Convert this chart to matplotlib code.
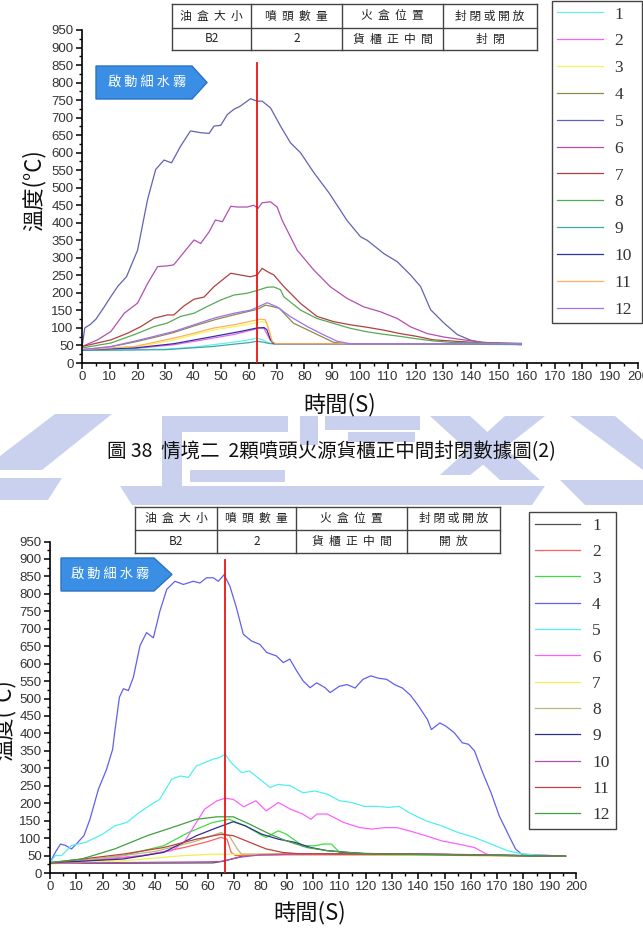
import matplotlib
matplotlib.use("Agg")
import matplotlib.pyplot as plt
from matplotlib.patches import Polygon
from matplotlib.lines import Line2D
from matplotlib.ticker import MultipleLocator

W, H = 643, 938
CJK = ['Noto Sans CJK TC', 'DejaVu Sans']

# ---------------- figure 1 : closed container ----------------
closed_labels = [str(i) for i in range(1, 13)]
closed_colors = ['#66eeee', '#ee66ee', '#f5f55a', '#8c8c46', '#6262b0', '#b050b0',
                 '#b04040', '#55aa55', '#40a8a8', '#3030a0', '#ffb060', '#a070f0']

closed_t1 = [0, 20, 31, 40, 47, 52, 57, 60, 63, 65, 67, 68, 75, 100, 130, 158]
closed_v1 = [36, 38, 40, 45, 52, 57, 62, 66, 71, 66, 58, 55, 55, 55, 54, 52]
closed_t2 = [0, 20, 33, 45, 55, 60, 64, 65.5, 67, 68.5, 70, 100, 158]
closed_v2 = [38, 42, 52, 68, 82, 92, 100, 98, 75, 57, 55, 55, 54]
closed_t3 = [0, 10, 19, 26, 33, 40, 48, 55, 62, 64.5, 66.5, 67.5, 68.5, 70, 100, 158]
closed_v3 = [38, 42, 46, 55, 66, 80, 95, 104, 114, 118, 116, 90, 60, 55, 55, 55]
closed_t4 = [0, 10, 19, 26, 33, 40, 48, 55, 63, 66, 68, 71, 76, 81, 86, 90.5, 95, 158]
closed_v4 = [38, 46, 60, 73, 87, 105, 124, 138, 153, 165, 162, 156, 114, 95, 76, 59, 55, 55]
closed_t5 = [0, 1, 3, 5, 8, 10, 13, 16, 20, 23.6, 26.5, 29.5, 32.2, 35.5, 39, 42.7, 45.7,
             47.5, 49.9, 52.3, 54.7, 57, 60.6, 63, 64.8, 67.8, 71.4, 75, 78.6, 83.4, 88.8,
             95.3, 100.2, 102.6, 108.6, 113.4, 118.2, 121.8, 125.4, 130.2, 135, 139.8,
             144.6, 150, 158]
closed_v5 = [45, 100, 110, 125, 160, 185, 220, 246, 322, 467, 552, 579, 571, 619, 662, 657,
             655, 676, 678, 709, 724, 733, 754, 747, 747, 728, 676, 628, 600, 543, 486, 407,
             360, 350, 312, 289, 251, 218, 152, 114, 81, 65, 57, 57, 56]
closed_t6 = [0, 5.6, 10.4, 15.2, 20, 23.6, 27.2, 30.7, 33, 37.3, 40.3, 42.7, 45.7, 48, 50.5,
             53.5, 56, 59.4, 61.8, 63.3, 64.8, 67.8, 70.2, 72, 77.4, 83.4, 89.4, 95.4, 101.4,
             107.4, 113.4, 118.2, 124.2, 130.2, 137.4, 144.6, 158]
closed_v6 = [47, 66, 90, 142, 171, 227, 275, 277, 280, 322, 351, 341, 374, 408, 403, 447,
             445, 445, 450, 441, 457, 460, 445, 407, 322, 265, 217, 184, 160, 146, 127, 103,
             84, 74, 66, 59, 52]
closed_t7 = [0, 10.4, 16.4, 21.2, 26, 30.7, 33, 36.7, 40.3, 43.9, 47.5, 50.5, 53.5, 57, 60.6,
             63, 64.8, 66.6, 69, 72.6, 78.6, 84.5, 90.5, 96.5, 102.5, 108.4, 114.4, 120.4,
             126.4, 132.4, 144.6, 158]
closed_v7 = [47, 66, 85, 104, 128, 137, 137, 163, 182, 188, 218, 237, 256, 251, 246, 251, 270,
             261, 251, 218, 170, 133, 118, 109, 102, 94, 84, 76, 66, 63, 57, 55]
closed_t8 = [0, 10.4, 18.8, 26, 30.7, 35.5, 40.3, 45, 50, 54.7, 59.4, 63, 66.6, 69, 71.4,
             72.6, 78.6, 84.5, 90.5, 96.5, 102.5, 108.4, 114.4, 120.4, 126.4, 132.4, 158]
closed_v8 = [43, 57, 81, 104, 114, 133, 142, 161, 180, 194, 199, 207, 216, 217, 209, 189, 151,
             127, 113, 99, 89, 82, 76, 69, 63, 59, 55]
closed_t9 = [0, 30, 47, 55, 60, 63, 65.5, 67, 69, 100, 158]
closed_v9 = [36, 38, 47, 54, 58, 62, 59, 56, 55, 55, 53]
closed_t10 = [0, 19, 33, 47.5, 57, 63, 65.5, 66.5, 67.8, 69, 100, 158]
closed_v10 = [38, 43, 55, 76, 90, 100, 101, 95, 66, 55, 55, 55]
closed_t11 = [0, 10.4, 18.8, 26, 33, 40.3, 47.5, 54.7, 61.8, 64.2, 66, 67.2, 68.4, 69.6, 100, 158]
closed_v11 = [38, 43, 47, 59, 71, 85, 100, 109, 121, 125, 123, 95, 62, 55, 55, 55]
closed_t12 = [0, 10.4, 18.8, 26, 33, 40.3, 47.5, 54.7, 60.7, 63, 66.6, 70.2, 75, 81, 87,
              91.8, 96.5, 158]
closed_v12 = [38, 47, 62, 76, 90, 109, 128, 142, 151, 159, 172, 160, 132, 104, 80, 62, 55, 55]

closed_spray_t = 63
closed_spray_top = 855

# ---------------- figure 2 : open container ----------------
open_labels = [str(i) for i in range(1, 13)]
open_colors = ['#505050', '#ff6060', '#40dd40', '#6060ee', '#50f0f0', '#ff60ff',
               '#f0f050', '#b8b880', '#303090', '#b050b0', '#c04040', '#40a040']

open_t1 = [0, 28, 62, 66.6, 70, 74, 80, 90, 120, 150, 196]
open_v1 = [28, 28, 29, 35, 42, 50, 53, 55, 55, 53, 48]
open_t2 = [0, 20, 35.5, 51, 60, 65, 67.3, 68.9, 70.5, 90, 150, 196]
open_v2 = [29, 38, 50, 73, 90, 102, 97, 59, 50, 52, 52, 48]
open_t3 = [0, 15, 27.7, 43.2, 52.6, 61.9, 68.1, 74.3, 80, 82.2, 86.8, 89.9, 96.1, 100.8,
           103.9, 107, 110.1, 115, 150, 196]
open_v3 = [30, 38, 50, 78, 116, 145, 154, 135, 110, 102, 121, 111, 78, 78, 83, 83, 59, 55, 53, 48]
open_t4 = [0, 2, 4, 5.9, 8.2, 10.6, 12.9, 15.2, 18.4, 21.5, 23.8, 24.7, 26.4, 27.9, 29.8,
           31.7, 34.2, 36.7, 39.3, 41.8, 44.4, 47.5, 50.7, 54.5, 57, 59.5, 62.1, 64, 66.2,
           68.4, 70.9, 73.5, 76.6, 79.8, 82.4, 86.1, 88.7, 91.2, 93.8, 96.3, 98.9, 101.4,
           104.6, 106.5, 110, 113, 116, 119, 122, 125, 128, 131, 134, 137, 140, 143.5, 145,
           148.2, 150.5, 153.7, 156.8, 159.1, 161.4, 164.5, 167.7, 170.8, 173.9, 177, 179.3, 196]
open_v4 = [30, 59, 83, 79, 69, 88, 107, 154, 240, 297, 354, 409, 504, 528, 523, 561, 651, 689,
           674, 751, 813, 836, 827, 836, 831, 846, 846, 836, 855, 822, 760, 684, 665, 655, 632,
           622, 603, 613, 579, 550, 531, 545, 531, 517, 535, 540, 530, 555, 565, 558, 555, 540,
           530, 510, 480, 440, 411, 430, 421, 402, 373, 369, 350, 288, 230, 164, 116, 69, 54, 48]
open_t5 = [0, 2, 4.4, 8.2, 13.7, 19.9, 24.6, 29.2, 33.9, 38.6, 41.7, 46.3, 49.5, 52.6, 55.7,
           58.8, 61.9, 64.2, 66.6, 68.9, 72.8, 75.9, 80.6, 83.7, 86.8, 91.4, 96.1, 100.8, 105.4,
           110.1, 114.8, 119.4, 124.1, 128.8, 132.7, 136.5, 142.8, 149, 155.2, 161.4, 167.7,
           173.9, 180.1, 186.3, 196]
open_v5 = [30, 50, 50, 79, 88, 111, 135, 145, 173, 197, 211, 269, 278, 274, 307, 316, 326, 330,
           340, 316, 288, 292, 264, 245, 254, 250, 230, 235, 226, 207, 202, 191, 191, 188, 191,
           173, 150, 135, 116, 102, 83, 64, 54, 51, 48]
open_t6 = [0, 20, 35, 46.3, 51, 54.1, 58.8, 63.5, 66.6, 69.7, 73.6, 78.3, 82.2, 86.8, 91.4,
           96.1, 99.2, 101.5, 105.4, 111.6, 117.8, 122.5, 127.1, 131.9, 136.5, 142.8, 149,
           155.2, 161.4, 166, 169.2, 196]
open_v6 = [30, 40, 50, 64, 88, 126, 183, 207, 214, 211, 190, 207, 178, 202, 183, 169, 154, 169,
           169, 145, 130, 126, 130, 130, 121, 107, 92, 83, 73, 54, 50, 48]
open_t7 = [0, 27.7, 51, 63.5, 68, 90, 196]
open_v7 = [26, 35, 50, 54, 54, 54, 48]
open_t8 = [0, 20, 40, 55, 65, 68.1, 71.2, 72.8, 90, 196]
open_v8 = [30, 42, 62, 90, 116, 107, 69, 54, 54, 48]
open_t9 = [0, 27.7, 43.2, 55.7, 63.5, 69.7, 74.3, 80.6, 86.8, 93, 99.2, 105.4, 113.2, 120, 196]
open_v9 = [29, 40, 59, 107, 130, 147, 135, 111, 97, 88, 73, 64, 59, 56, 48]
open_t10 = [0, 30, 60, 65, 68, 72, 80, 100, 150, 196]
open_v10 = [28, 30, 32, 33, 38, 45, 52, 55, 54, 48]
open_t11 = [0, 27.7, 43.2, 55.7, 65, 69.7, 75.9, 82.2, 88.4, 95, 150, 196]
open_v11 = [29, 54, 73, 97, 111, 107, 88, 69, 59, 55, 53, 48]
open_t12 = [0, 12, 24.6, 37, 46.3, 55.7, 63.5, 69.7, 75.9, 83.7, 89.9, 97.7, 105.4, 113.2, 120, 196]
open_v12 = [30, 40, 69, 107, 130, 154, 161, 161, 140, 111, 92, 73, 64, 59, 55, 48]

open_spray_t = 66.5
open_spray_top = 897

table_head = ['油  盒  大  小', '噴  頭  數  量', '火  盒  位  置', '封 閉 或 開 放']
closed_row = ['B2', '2', '貨  櫃  正  中  間', '封  閉']
open_row = ['B2', '2', '貨  櫃  正  中  間', '開  放']
caption = '圖 38  情境二  2顆噴頭火源貨櫃正中間封閉數據圖(2)'
spray_text = '啟 動 細 水 霧'


def fig_pt(x, y):
    # pixel position (from top-left) -> figure fraction
    return (x / W, 1 - y / H)


def setup_axes(ax, label_x, label_y, ylab_x, ylab_y):
    ax.set_xlim(0, 200)
    ax.set_ylim(0, 950)
    ax.xaxis.set_major_locator(MultipleLocator(10))
    ax.xaxis.set_minor_locator(MultipleLocator(5))
    ax.yaxis.set_major_locator(MultipleLocator(50))
    ax.yaxis.set_minor_locator(MultipleLocator(25))
    for s in ['top', 'right']:
        ax.spines[s].set_visible(False)
    for s in ['left', 'bottom']:
        ax.spines[s].set_linewidth(1.2)
    ax.tick_params(which='major', length=4, width=1.1, direction='out', pad=2,
                   labelsize=9.5, labelcolor='#333333')
    ax.tick_params(which='minor', length=2.5, width=1.0, direction='out')
    for lab in ax.get_xticklabels() + ax.get_yticklabels():
        lab.set_family('Liberation Sans')
    ax.set_xlabel('時間(S)', family=CJK, fontsize=16, color='#111111')
    ax.xaxis.set_label_coords(label_x, label_y)
    ax.set_ylabel('溫度(°C)', family=CJK, fontsize=16, color='#111111')
    ax.yaxis.set_label_coords(ylab_x, ylab_y)


def draw_table(fig, cols, rows, head, body):
    for x in cols:
        fig.add_artist(Line2D([x / W, x / W], [1 - rows[0] / H, 1 - rows[-1] / H],
                              transform=fig.transFigure, color='#444444', lw=1))
    for y in rows:
        fig.add_artist(Line2D([cols[0] / W, cols[-1] / W], [1 - y / H, 1 - y / H],
                              transform=fig.transFigure, color='#444444', lw=1))
    for i in range(len(head)):
        cx = (cols[i] + cols[i + 1]) / 2
        fig.text(*fig_pt(cx, (rows[0] + rows[1]) / 2), head[i], family=CJK, fontsize=8.5,
                 ha='center', va='center', color='#222222')
        fig.text(*fig_pt(cx, (rows[1] + rows[2]) / 2), body[i], family=CJK, fontsize=8.5,
                 ha='center', va='center', color='#222222')


def draw_spray_tag(fig, x0, x1, xt, y0, y1):
    ym = (y0 + y1) / 2
    pts = [fig_pt(x0, y0), fig_pt(x1, y0), fig_pt(xt, ym), fig_pt(x1, y1), fig_pt(x0, y1)]
    fig.add_artist(Polygon(pts, closed=True, transform=fig.transFigure,
                           facecolor='#3a8fe4', edgecolor='#2b72c4', lw=1))
    fig.text(*fig_pt((x0 + x1) / 2 + 3, ym), spray_text, family=CJK, fontsize=9.5,
             color='white', ha='center', va='center')


def add_legend(ax, left, top, width, spacing, pad):
    leg = ax.legend(loc='upper left', bbox_to_anchor=(left / W, 1 - top / H, width / W, 0),
                    bbox_transform=ax.figure.transFigure, mode='expand', ncol=1,
                    prop={'family': 'Liberation Serif', 'size': 12.5},
                    handlelength=2.6, handletextpad=0.7, labelspacing=spacing,
                    borderpad=pad, borderaxespad=0, fancybox=False, framealpha=1)
    leg.get_frame().set_edgecolor('#444444')
    leg.get_frame().set_linewidth(1.0)
    for tx in leg.get_texts():
        tx.set_color('#333333')
    return leg


fig = plt.figure(figsize=(W / 100, H / 100), dpi=100)

# watermark (light logo behind the caption)
wm = '#c9d1ee'
shapes = [
    [(55, 414), (112, 414), (42, 470), (0, 470), (0, 456)],
    [(0, 478), (62, 478), (48, 500), (0, 500)],
    [(162, 416), (182, 416), (182, 505), (162, 505)],
    [(162, 416), (288, 416), (288, 432), (162, 432)],
    [(190, 470), (285, 470), (285, 482), (190, 482)],
    [(300, 416), (318, 416), (318, 445), (300, 445)],
    [(325, 416), (420, 416), (420, 430), (325, 430)],
    [(348, 432), (415, 432), (415, 442), (348, 442)],
    [(430, 416), (470, 416), (540, 480), (500, 480)],
    [(505, 416), (545, 416), (470, 475), (440, 475)],
    [(570, 416), (615, 416), (643, 440), (643, 470)],
    [(560, 480), (643, 480), (643, 505), (585, 505)],
    [(120, 486), (545, 486), (532, 505), (132, 505)],
]
for sh in shapes:
    fig.add_artist(Polygon([fig_pt(x, y) for x, y in sh], closed=True,
                           transform=fig.transFigure, facecolor=wm, edgecolor='none',
                           zorder=0))

# ---- top chart ----
ax1 = fig.add_axes([82 / W, 1 - 363 / H, 556 / W, 333 / H])
ax1.patch.set_alpha(0)
closed_t = [closed_t1, closed_t2, closed_t3, closed_t4, closed_t5, closed_t6,
            closed_t7, closed_t8, closed_t9, closed_t10, closed_t11, closed_t12]
closed_v = [closed_v1, closed_v2, closed_v3, closed_v4, closed_v5, closed_v6,
            closed_v7, closed_v8, closed_v9, closed_v10, closed_v11, closed_v12]
for t, v, c, lab in zip(closed_t, closed_v, closed_colors, closed_labels):
    ax1.plot(t, v, color=c, lw=0.9, label=lab)
ax1.plot([closed_spray_t, closed_spray_t], [0, closed_spray_top], color='#ee1111', lw=1.3,
         zorder=5)
setup_axes(ax1, (340 - 82) / 556, (363 - 393) / 333, (46 - 82) / 556, 0.52)
add_legend(ax1, 552, 1, 90, 0.615, 0.31)

# ---- bottom chart ----
ax2 = fig.add_axes([50 / W, 1 - 873 / H, 526 / W, 331.5 / H])
ax2.patch.set_alpha(0)
open_t = [open_t1, open_t2, open_t3, open_t4, open_t5, open_t6,
          open_t7, open_t8, open_t9, open_t10, open_t11, open_t12]
open_v = [open_v1, open_v2, open_v3, open_v4, open_v5, open_v6,
          open_v7, open_v8, open_v9, open_v10, open_v11, open_v12]
for t, v, c, lab in zip(open_t, open_v, open_colors, open_labels):
    ax2.plot(t, v, color=c, lw=0.9, label=lab)
ax2.plot([open_spray_t, open_spray_t], [0, open_spray_top], color='#ee1111', lw=1.3, zorder=5)
setup_axes(ax2, (310 - 50) / 526, (873 - 901) / 331.5, (16 - 50) / 526, 0.46)
add_legend(ax2, 529, 512, 87, 0.586, 0.33)

# tables and spray tags
draw_table(fig, [172, 251, 342, 443, 537], [4, 28, 50], table_head, closed_row)
draw_table(fig, [135, 217, 296, 407, 500], [507, 530, 553], table_head, open_row)
draw_spray_tag(fig, 96, 192, 207, 66, 99)
draw_spray_tag(fig, 61, 154, 172, 558, 591)

fig.text(*fig_pt(331, 452), caption, family=CJK, fontsize=14, ha='center', va='center',
         color='#111111')

fig.savefig('out.png', dpi=100)
